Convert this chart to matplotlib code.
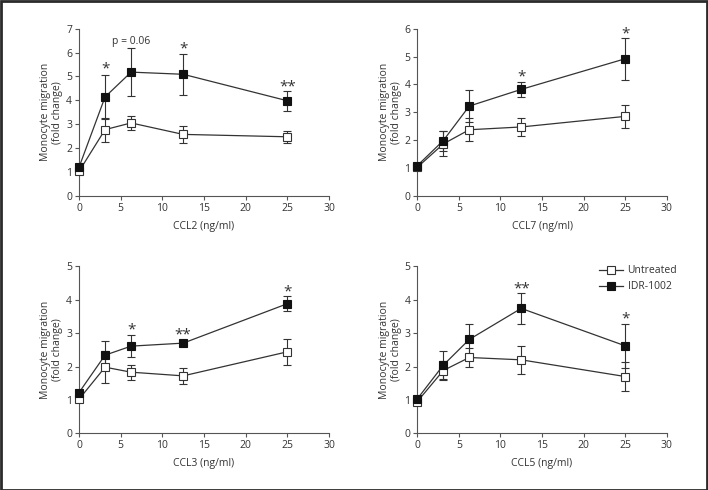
import matplotlib
matplotlib.use("Agg")
import matplotlib.pyplot as plt
from matplotlib.patches import Rectangle

plt.rcParams['font.family'] = ['Open Sans', 'DejaVu Sans']

dose = [0, 3.125, 6.25, 12.5, 25]

ccl2_untreated = [1.02, 2.77, 3.05, 2.57, 2.47]
ccl2_untreated_err = [0, 0.5, 0.3, 0.37, 0.24]
ccl2_idr = [1.19, 4.14, 5.18, 5.09, 3.98]
ccl2_idr_err = [0, 0.92, 1.0, 0.87, 0.42]

ccl7_untreated = [1.02, 1.86, 2.37, 2.47, 2.85]
ccl7_untreated_err = [0, 0.45, 0.42, 0.31, 0.42]
ccl7_idr = [1.08, 1.98, 3.22, 3.82, 4.92]
ccl7_idr_err = [0, 0.36, 0.58, 0.28, 0.75]

ccl3_untreated = [1.02, 1.98, 1.83, 1.72, 2.44]
ccl3_untreated_err = [0, 0.47, 0.22, 0.25, 0.39]
ccl3_idr = [1.22, 2.34, 2.61, 2.70, 3.88]
ccl3_idr_err = [0, 0.43, 0.32, 0.05, 0.22]

ccl5_untreated = [0.95, 1.88, 2.27, 2.20, 1.70]
ccl5_untreated_err = [0, 0.28, 0.29, 0.42, 0.44]
ccl5_idr = [1.03, 2.04, 2.81, 3.74, 2.62]
ccl5_idr_err = [0, 0.42, 0.47, 0.46, 0.66]

panels = [
    ("CCL2 (ng/ml)", 7, ccl2_untreated, ccl2_untreated_err, ccl2_idr, ccl2_idr_err,
     [(3.125, 5.3, "*"), (6.2, 6.45, "p = 0.06"), (12.5, 6.15, "*"), (25, 4.55, "**")]),
    ("CCL7 (ng/ml)", 6, ccl7_untreated, ccl7_untreated_err, ccl7_idr, ccl7_idr_err,
     [(12.5, 4.25, "*"), (25, 5.8, "*")]),
    ("CCL3 (ng/ml)", 5, ccl3_untreated, ccl3_untreated_err, ccl3_idr, ccl3_idr_err,
     [(6.25, 3.1, "*"), (12.5, 2.95, "**"), (25, 4.22, "*")]),
    ("CCL5 (ng/ml)", 5, ccl5_untreated, ccl5_untreated_err, ccl5_idr, ccl5_idr_err,
     [(12.5, 4.32, "**"), (25, 3.42, "*")]),
]

positions = [
    [0.1116, 0.6006, 0.3531, 0.3408],
    [0.5894, 0.6006, 0.3523, 0.3408],
    [0.1116, 0.1157, 0.3531, 0.3408],
    [0.5894, 0.1157, 0.3523, 0.3408],
]

ink = "#333333"
fig = plt.figure(figsize=(7.08, 4.9), dpi=100)
fig.patches.append(Rectangle((0.001, 0.001), 0.997, 0.997, transform=fig.transFigure,
                             fill=False, edgecolor="#2a2a2a", linewidth=2.0))

for pos, (xlabel, ymax, unt, unt_err, idr, idr_err, notes) in zip(positions, panels):
    ax = fig.add_axes(pos)
    ax.errorbar(dose, unt, yerr=unt_err, fmt="none", ecolor=ink, elinewidth=0.8,
                capsize=3, capthick=0.8, zorder=2)
    ax.errorbar(dose, idr, yerr=idr_err, fmt="none", ecolor=ink, elinewidth=0.8,
                capsize=3, capthick=0.8, zorder=2)
    ax.plot(dose, unt, color=ink, lw=0.9, marker="s", ms=6, mfc="white", mec=ink,
            mew=0.8, label="Untreated", zorder=3)
    ax.plot(dose, idr, color=ink, lw=0.9, marker="s", ms=6, mfc="#111111", mec="#111111",
            mew=0.8, label="IDR-1002", zorder=4)
    for x, y, s in notes:
        fs = 7.5 if s.startswith("p") else 11
        ax.text(x, y, s, ha="center", va="center", fontsize=fs, color=ink)
    ax.set_xlim(0, 30)
    ax.set_ylim(0, ymax)
    ax.set_xticks(range(0, 31, 5))
    ax.set_yticks(range(0, ymax + 1))
    ax.spines["top"].set_visible(False)
    ax.spines["right"].set_visible(False)
    for sp in ("left", "bottom"):
        ax.spines[sp].set_color("#555555")
        ax.spines[sp].set_linewidth(0.8)
    ax.tick_params(direction="out", length=3, width=0.8, color="#555555",
                   labelsize=7.5, labelcolor=ink, pad=2)
    ax.set_xlabel(xlabel, fontsize=7.5, color=ink, labelpad=5)
    ax.set_ylabel("Monocyte migration\n(fold change)", fontsize=7.5, color=ink,
                  labelpad=2, linespacing=1.1)
    for line in ax.lines:
        line.set_clip_on(False)

ax.legend(loc="upper left", bbox_to_anchor=(0.728, 1.005), frameon=False, fontsize=7.5,
          borderpad=0, borderaxespad=0, handlelength=2.3, handletextpad=0.45,
          labelspacing=0.45, labelcolor=ink)

fig.savefig("out.png", dpi=100)
